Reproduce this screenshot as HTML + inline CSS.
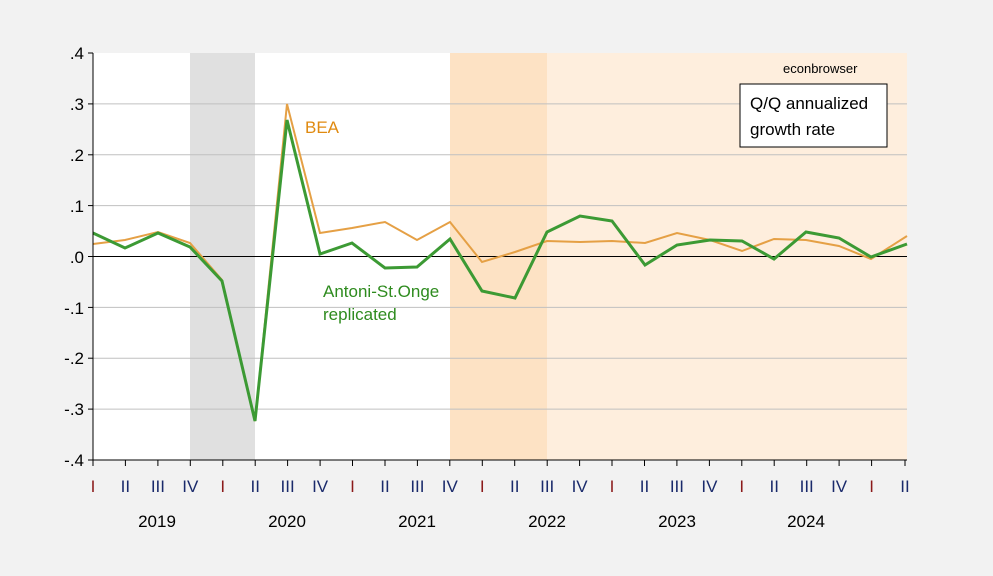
<!DOCTYPE html>
<html><head><style>body{margin:0;background:#f2f2f2}svg{display:block;font-family:"Liberation Sans",sans-serif}</style></head><body>
<svg width="993" height="576" viewBox="0 0 993 576">
<rect width="993" height="576" fill="#f2f2f2"/>
<rect x="93" y="53" width="814" height="407" fill="#fff"/>
<rect x="190" y="53" width="65" height="407" fill="#e0e0e0"/>
<rect x="450" y="53" width="97" height="407" fill="#fde2c4"/>
<rect x="547" y="53" width="360" height="407" fill="#feeedd"/>
<g stroke="#c0c0c0" stroke-width="1">
<line x1="93" x2="907" y1="103.9" y2="103.9"/><line x1="93" x2="907" y1="154.8" y2="154.8"/><line x1="93" x2="907" y1="205.6" y2="205.6"/>
<line x1="93" x2="907" y1="307.4" y2="307.4"/><line x1="93" x2="907" y1="358.2" y2="358.2"/><line x1="93" x2="907" y1="409.1" y2="409.1"/>
</g>
<line x1="93" x2="907" y1="256.5" y2="256.5" stroke="#000"/>
<polyline fill="none" stroke="#e5a045" stroke-width="2" points="93,244 125,240 158,232 190,243 222,280 255,421 287,104 320,233 352,228 385,222 417,240 450,222 482,262 515,252 547,241 580,242 612,241 645,243 677,233 710,240 742,251 774,239 806,240 839,246 871,259 907,236"/>
<polyline fill="none" stroke="#3c9a34" stroke-width="3" points="93,233 125,248 158,233 190,247 222,281 255,421 287,120 320,254 352,243 385,268 417,267 450,239 482,291 515,298 547,232 580,216 612,221 645,265 677,245 710,240 742,241 774,259 806,232 839,238 871,257 907,244"/>
<g stroke="#000" fill="none"><polyline points="93,53 93,460 907,460"/>
<line x1="88" x2="93" y1="53" y2="53"/><line x1="88" x2="93" y1="103.9" y2="103.9"/><line x1="88" x2="93" y1="154.8" y2="154.8"/><line x1="88" x2="93" y1="205.6" y2="205.6"/><line x1="88" x2="93" y1="256.5" y2="256.5"/><line x1="88" x2="93" y1="307.4" y2="307.4"/><line x1="88" x2="93" y1="358.2" y2="358.2"/><line x1="88" x2="93" y1="409.1" y2="409.1"/><line x1="88" x2="93" y1="460" y2="460"/>
<line x1="93" x2="93" y1="460" y2="466"/><line x1="125.4" x2="125.4" y1="460" y2="466"/><line x1="157.9" x2="157.9" y1="460" y2="466"/><line x1="190.3" x2="190.3" y1="460" y2="466"/><line x1="222.8" x2="222.8" y1="460" y2="466"/><line x1="255.2" x2="255.2" y1="460" y2="466"/><line x1="287.6" x2="287.6" y1="460" y2="466"/><line x1="320.1" x2="320.1" y1="460" y2="466"/><line x1="352.5" x2="352.5" y1="460" y2="466"/><line x1="385" x2="385" y1="460" y2="466"/><line x1="417.4" x2="417.4" y1="460" y2="466"/><line x1="449.8" x2="449.8" y1="460" y2="466"/><line x1="482.3" x2="482.3" y1="460" y2="466"/><line x1="514.7" x2="514.7" y1="460" y2="466"/><line x1="547.2" x2="547.2" y1="460" y2="466"/><line x1="579.6" x2="579.6" y1="460" y2="466"/><line x1="612" x2="612" y1="460" y2="466"/><line x1="644.5" x2="644.5" y1="460" y2="466"/><line x1="676.9" x2="676.9" y1="460" y2="466"/><line x1="709.4" x2="709.4" y1="460" y2="466"/><line x1="741.8" x2="741.8" y1="460" y2="466"/><line x1="774.2" x2="774.2" y1="460" y2="466"/><line x1="806.7" x2="806.7" y1="460" y2="466"/><line x1="839.1" x2="839.1" y1="460" y2="466"/><line x1="871.6" x2="871.6" y1="460" y2="466"/><line x1="905" x2="905" y1="460" y2="466"/>
</g>
<g font-size="17" text-anchor="end" fill="#000">
<text x="84" y="59">.4</text><text x="84" y="110">.3</text><text x="84" y="161">.2</text><text x="84" y="212">.1</text><text x="84" y="263">.0</text><text x="84" y="314">-.1</text><text x="84" y="364">-.2</text><text x="84" y="415">-.3</text><text x="84" y="466">-.4</text>
</g>
<g font-size="17" text-anchor="middle" fill="#1a2a6b">
<text x="93" y="492" fill="#8b1a1a">I</text><text x="125.4" y="492">II</text><text x="157.9" y="492">III</text><text x="190.3" y="492">IV</text>
<text x="222.8" y="492" fill="#8b1a1a">I</text><text x="255.2" y="492">II</text><text x="287.6" y="492">III</text><text x="320.1" y="492">IV</text>
<text x="352.5" y="492" fill="#8b1a1a">I</text><text x="385" y="492">II</text><text x="417.4" y="492">III</text><text x="449.8" y="492">IV</text>
<text x="482.3" y="492" fill="#8b1a1a">I</text><text x="514.7" y="492">II</text><text x="547.2" y="492">III</text><text x="579.6" y="492">IV</text>
<text x="612" y="492" fill="#8b1a1a">I</text><text x="644.5" y="492">II</text><text x="676.9" y="492">III</text><text x="709.4" y="492">IV</text>
<text x="741.8" y="492" fill="#8b1a1a">I</text><text x="774.2" y="492">II</text><text x="806.7" y="492">III</text><text x="839.1" y="492">IV</text>
<text x="871.6" y="492" fill="#8b1a1a">I</text><text x="905" y="492">II</text>
</g>
<g font-size="17" text-anchor="middle" fill="#000">
<text x="157" y="527">2019</text><text x="287" y="527">2020</text><text x="417" y="527">2021</text><text x="547" y="527">2022</text><text x="677" y="527">2023</text><text x="806" y="527">2024</text>
</g>
<text x="305" y="133" font-size="17" fill="#e08a10">BEA</text>
<text x="323" y="297" font-size="17" fill="#2e8b1e">Antoni-St.Onge</text>
<text x="323" y="320" font-size="17" fill="#2e8b1e">replicated</text>
<text x="783" y="73" font-size="13" fill="#000">econbrowser</text>
<rect x="740" y="84" width="147" height="63" fill="#fff" stroke="#000"/>
<text x="750" y="109" font-size="17">Q/Q annualized</text>
<text x="750" y="135" font-size="17">growth rate</text>
</svg>
</body></html>
